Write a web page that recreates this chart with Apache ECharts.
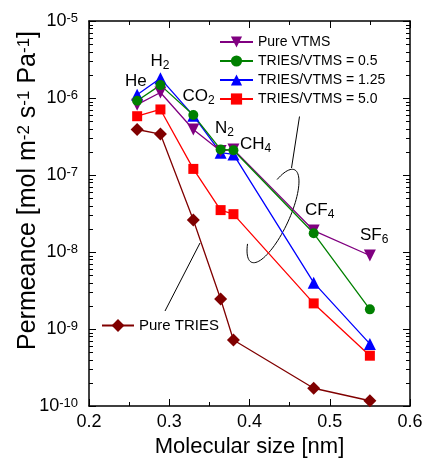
<!DOCTYPE html>
<html>
<head>
<meta charset="utf-8">
<script src="https://cdn.jsdelivr.net/npm/echarts@6/dist/echarts.min.js"></script>
<style>
html, body { margin: 0; padding: 0; background: #fff; }
#chart { width: 426px; height: 458px; }
</style>
</head>
<body>
<div id="chart"></div>
<script>
// molecular size of each gas [nm]
var molecularSize = [0.26, 0.289, 0.33, 0.364, 0.38, 0.48, 0.55];
var gasNames = ['He', 'H2', 'CO2', 'N2', 'CH4', 'CF4', 'SF6'];
// permeance [mol m-2 s-1 Pa-1]
var pureVTMS = [8.2e-7, 1.18e-6, 3.9e-7, 2.05e-7, 2.15e-7, 1.9e-8, 9.0e-9];
var ratio05 = [9.2e-7, 1.47e-6, 6.0e-7, 2.15e-7, 2.1e-7, 1.75e-8, 1.8e-9];
var ratio125 = [1.1e-6, 1.8e-6, 5.9e-7, 1.95e-7, 1.85e-7, 4.0e-9, 6.4e-10];
var ratio50 = [5.8e-7, 7.1e-7, 1.2e-7, 3.5e-8, 3.1e-8, 2.15e-9, 4.5e-10];
var pureTRIES = [3.9e-7, 3.4e-7, 2.6e-8, 2.45e-9, 7.2e-10, 1.7e-10, 1.17e-10];
var xTicks = { min: 0.2, max: 0.6, step: 0.1 };
var yRange = { min: 1e-10, max: 1e-5 };

var FONT = "'Liberation Sans', Arial, sans-serif";

var chart = echarts.init(document.getElementById('chart'));

function lineSeries(name, values, symbol, size, color, rotate) {
    return {
        name: name,
        type: 'line',
        data: molecularSize.map(function (x, i) { return [x, values[i]]; }),
        symbol: symbol,
        symbolSize: size,
        symbolRotate: rotate || 0,
        lineStyle: { color: color, width: 1.3 },
        itemStyle: { color: color },
        emphasis: { disabled: true }
    };
}

// minor ticks of the log axis (2..9 in each decade)
var minorTicks = [];
for (var e = -10; e < -5; e++) {
    for (var m = 2; m <= 9; m++) {
        minorTicks.push(m * Math.pow(10, e));
    }
}

// labels of the gases: [main, subscript, left, top]
var gasLabels = [
    ['He', '', 125, 73],
    ['H', '2', 150.5, 53],
    ['CO', '2', 182.5, 88],
    ['N', '2', 215, 120],
    ['CH', '4', 240, 136],
    ['CF', '4', 305, 202],
    ['SF', '6', 360, 227]
];

function gasText(item) {
    return {
        type: 'text',
        x: item[2],
        y: item[3],
        silent: true,
        style: {
            text: '{m|' + item[0] + '}' + (item[1] ? '{s|' + item[1] + '}' : ''),
            rich: {
                m: { fontSize: 17, lineHeight: 17, verticalAlign: 'top', fontFamily: FONT, fill: '#000' },
                s: { fontSize: 12, lineHeight: 12, verticalAlign: 'top', padding: [7, 0, 0, 0], fontFamily: FONT, fill: '#000' }
            }
        }
    };
}

// open ellipse round the curves
function ellipsePoints(cx, cy, a, b, angle, t0, t1) {
    var pts = [];
    var rad = angle * Math.PI / 180;
    var ux = Math.sin(rad), uy = -Math.cos(rad);
    var vx = Math.cos(rad), vy = Math.sin(rad);
    for (var t = t0; t <= t1; t += 4) {
        var r = t * Math.PI / 180;
        pts.push([cx + a * Math.cos(r) * ux + b * Math.sin(r) * vx,
                  cy + a * Math.cos(r) * uy + b * Math.sin(r) * vy]);
    }
    return pts;
}

var graphics = gasLabels.map(gasText);
graphics.push({
    type: 'polyline', silent: true,
    shape: { points: ellipsePoints(273, 216, 51, 16, 25, 313, 588) },
    style: { stroke: '#000', lineWidth: 1, fill: null }
});
graphics.push({
    type: 'line', silent: true,
    shape: { x1: 291.5, y1: 168, x2: 299.5, y2: 116.5 },
    style: { stroke: '#000', lineWidth: 1 }
});
graphics.push({
    type: 'line', silent: true,
    shape: { x1: 165, y1: 311, x2: 200, y2: 243 },
    style: { stroke: '#000', lineWidth: 1 }
});

var axisLineStyle = { color: '#000', width: 1.5 };

var option = {
    animation: false,
    grid: { left: 89, right: 16, top: 21, bottom: 52, outerBoundsMode: 'none' },
    legend: [
        {
            data: ['Pure VTMS', 'TRIES/VTMS = 0.5', 'TRIES/VTMS = 1.25', 'TRIES/VTMS = 5.0'],
            orient: 'vertical',
            left: 219,
            top: 35,
            padding: 0,
            itemWidth: 33,
            itemHeight: 14,
            itemGap: 5,
            selectedMode: false,
            textStyle: { fontSize: 14, fontFamily: FONT, color: '#000' }
        },
        {
            data: ['Pure TRIES'],
            left: 101,
            top: 318,
            padding: 0,
            itemWidth: 32,
            itemHeight: 16,
            selectedMode: false,
            textStyle: { fontSize: 15, fontFamily: FONT, color: '#000' }
        }
    ],
    xAxis: [
        {
            type: 'value',
            min: xTicks.min,
            max: xTicks.max,
            interval: xTicks.step,
            position: 'bottom',
            axisLine: { onZero: false, lineStyle: axisLineStyle },
            axisTick: { inside: true, length: 7, lineStyle: { color: '#000' } },
            minorTick: { show: true, splitNumber: 2, length: 4, lineStyle: { color: '#000' } },
            splitLine: { show: false },
            axisLabel: {
                margin: 7,
                fontSize: 18,
                fontFamily: FONT,
                color: '#000',
                formatter: function (v) { return v.toFixed(1); }
            },
            name: 'Molecular size [nm]',
            nameLocation: 'middle',
            nameGap: 30,
            nameMoveOverlap: false,
            nameTextStyle: { fontSize: 22, fontFamily: FONT, color: '#000' }
        },
        {
            type: 'value',
            min: xTicks.min,
            max: xTicks.max,
            interval: xTicks.step,
            position: 'top',
            axisLine: { onZero: false, lineStyle: axisLineStyle },
            axisTick: { inside: true, length: 7, lineStyle: { color: '#000' } },
            minorTick: { show: true, splitNumber: 2, length: 4, lineStyle: { color: '#000' } },
            splitLine: { show: false },
            axisLabel: { show: false }
        }
    ],
    yAxis: [
        {
            type: 'log',
            logBase: 10,
            min: yRange.min,
            max: yRange.max,
            position: 'left',
            axisLine: { show: true, onZero: false, lineStyle: axisLineStyle },
            axisTick: { inside: true, length: 7, lineStyle: { color: '#000' } },
            splitLine: { show: false },
            axisLabel: {
                margin: 11,
                formatter: function (v) {
                    var p = Math.round(Math.log(v) / Math.LN10);
                    return '{b|10}{s|' + p + '}';
                },
                rich: {
                    b: { fontSize: 18, lineHeight: 18, verticalAlign: 'bottom', fontFamily: FONT, color: '#000' },
                    s: { fontSize: 13, lineHeight: 13, verticalAlign: 'top', padding: [0, 0, 7, 0], fontFamily: FONT, color: '#000' }
                }
            },
            name: '{t|Permeance [mol m}{p|-2}{t| s}{p|-1}{t| Pa}{p|-1}{t|]}',
            nameLocation: 'middle',
            nameGap: 48,
            nameMoveOverlap: false,
            nameTextStyle: {
                padding: [0, 0, 0, 46],
                rich: {
                    t: { fontSize: 25, lineHeight: 25, verticalAlign: 'bottom', fontFamily: FONT, color: '#000' },
                    p: { fontSize: 17, lineHeight: 17, verticalAlign: 'top', padding: [0, 0, 11, 0], fontFamily: FONT, color: '#000' }
                }
            }
        },
        {
            type: 'log',
            logBase: 10,
            min: yRange.min,
            max: yRange.max,
            position: 'right',
            axisLine: { show: true, onZero: false, lineStyle: axisLineStyle },
            axisTick: { inside: true, length: 7, lineStyle: { color: '#000' } },
            splitLine: { show: false },
            axisLabel: { show: false }
        }
    ],
    graphic: { elements: graphics },
    series: [
        lineSeries('Pure TRIES', pureTRIES, 'diamond', 13, '#800000'),
        lineSeries('TRIES/VTMS = 5.0', ratio50, 'rect', 10, '#ff0000'),
        lineSeries('TRIES/VTMS = 1.25', ratio125, 'triangle', 12, '#0000ff'),
        lineSeries('Pure VTMS', pureVTMS, 'triangle', 12, '#800080', 180),
        lineSeries('TRIES/VTMS = 0.5', ratio05, 'circle', 10, '#008000'),
        {
            type: 'custom',
            silent: true,
            data: minorTicks.map(function (v) { return [0.3, v]; }),
            renderItem: function (params, api) {
                var cs = params.coordSys;
                var y = Math.round(api.coord([0.3, api.value(1)])[1]) + 0.5;
                return {
                    type: 'group',
                    children: [
                        { type: 'line', shape: { x1: cs.x, y1: y, x2: cs.x + 4, y2: y }, style: { stroke: '#000', lineWidth: 1 } },
                        { type: 'line', shape: { x1: cs.x + cs.width, y1: y, x2: cs.x + cs.width - 4, y2: y }, style: { stroke: '#000', lineWidth: 1 } }
                    ]
                };
            }
        }
    ]
};

chart.setOption(option);
</script>
</body>
</html>
